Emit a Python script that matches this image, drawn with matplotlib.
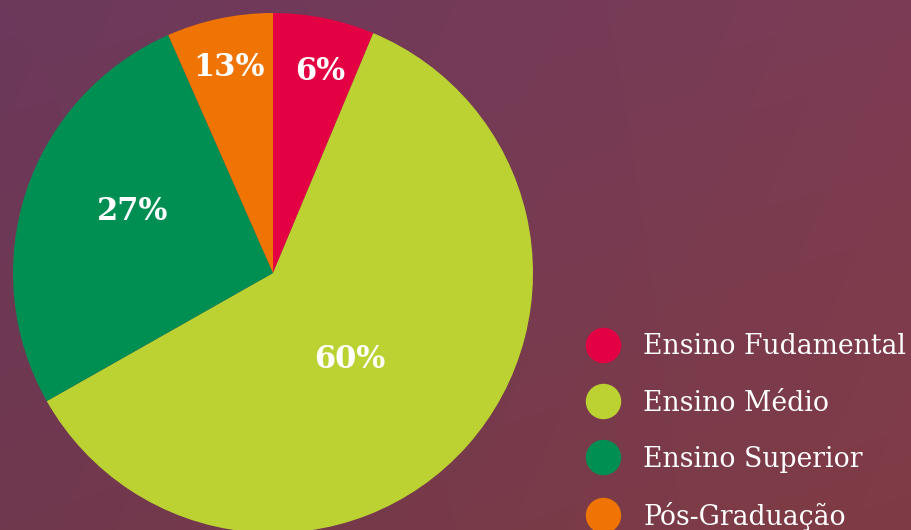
import numpy as np
import matplotlib
matplotlib.use("Agg")
import matplotlib.pyplot as plt
from matplotlib.lines import Line2D

# wedge sizes (clockwise from 12 o'clock)
categories = ["Ensino Fudamental", "Ensino Médio", "Ensino Superior", "Pós-Graduação"]
wedge_share = [6.3, 60.5, 26.6, 6.6]
pct_labels = ["6%", "60%", "27%", "13%"]

colors = ["#e30043", "#bcd233", "#008f52", "#ef7404"]

W, H = 911, 530
fig = plt.figure(figsize=(W / 100, H / 100), dpi=100)
ax = fig.add_axes([0, 0, 1, 1])

# blurred photo backdrop -> smooth purple/maroon gradient
yy, xx = np.mgrid[0:1:120j, 0:1:200j]
top_left = np.array([0x6c, 0x39, 0x5c]) / 255
top_right = np.array([0x7c, 0x3c, 0x55]) / 255
bot_left = np.array([0x70, 0x38, 0x4e]) / 255
bot_right = np.array([0x80, 0x3c, 0x45]) / 255
bg = ((1 - xx)[..., None] * (1 - yy)[..., None] * top_left
      + xx[..., None] * (1 - yy)[..., None] * top_right
      + (1 - xx)[..., None] * yy[..., None] * bot_left
      + xx[..., None] * yy[..., None] * bot_right)
ax.imshow(bg, extent=[0, W, 0, H], aspect="auto", zorder=0, interpolation="bicubic")

cx, cy, r = 273, H - 273, 260
wedges, _ = ax.pie(
    wedge_share, colors=colors, startangle=90, counterclock=False,
    center=(cx, cy), radius=r, frame=True,
    wedgeprops=dict(linewidth=0, zorder=2),
)

# percentage labels (pixel layout, y measured from top)
label_xy = [(320, 72), (350, 359), (133, 212), (229, 67)]
for txt, (px, py) in zip(pct_labels, label_xy):
    ax.text(px, H - py, txt, ha="center", va="center", color="white",
            fontsize=22, fontweight="bold", family="DejaVu Serif", zorder=3)

# legend runs off the bottom edge, as in the source image
handles = [Line2D([], [], marker="o", linestyle="none", markersize=25.5,
                  markerfacecolor=c, markeredgewidth=0) for c in colors]
leg = ax.legend(handles, categories, loc="upper left",
                bbox_to_anchor=(590 / W, 1 - 333.5 / H), frameon=False,
                prop=dict(family="DejaVu Serif", size=19.2),
                labelcolor="white", handlelength=1.0, handletextpad=1.0,
                labelspacing=1.09, borderaxespad=0, borderpad=0)

ax.set_xlim(0, W)
ax.set_ylim(0, H)
ax.set_aspect("auto")
ax.axis("off")

fig.savefig("out.png", dpi=100)
